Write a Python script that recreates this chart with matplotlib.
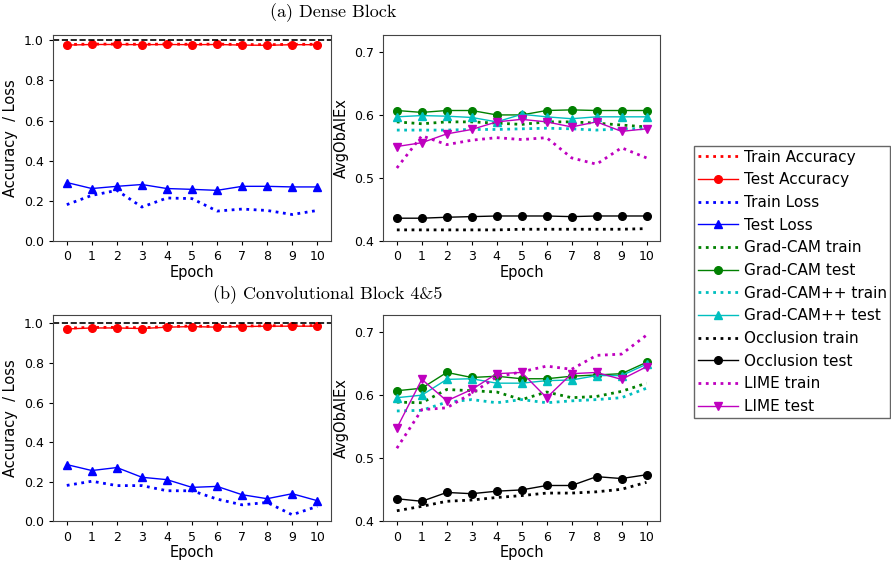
import matplotlib.pyplot as plt
import numpy as np

epochs = np.arange(11)

# (a) Dense Block
a_train_acc = [0.978, 0.980, 0.980, 0.979, 0.980, 0.979, 0.980, 0.978, 0.977, 0.979, 0.979]
a_test_acc = [0.975, 0.978, 0.978, 0.977, 0.978, 0.977, 0.978, 0.975, 0.974, 0.977, 0.977]
a_train_loss = [0.182, 0.228, 0.253, 0.170, 0.215, 0.212, 0.150, 0.160, 0.153, 0.133, 0.153]
a_test_loss = [0.292, 0.262, 0.273, 0.282, 0.262, 0.258, 0.253, 0.273, 0.273, 0.270, 0.270]

a_gc_train = [0.589, 0.586, 0.589, 0.589, 0.587, 0.585, 0.589, 0.589, 0.587, 0.584, 0.581]
a_gc_test = [0.607, 0.604, 0.607, 0.607, 0.600, 0.600, 0.607, 0.608, 0.607, 0.607, 0.607]
a_gcpp_train = [0.576, 0.576, 0.576, 0.577, 0.577, 0.578, 0.579, 0.578, 0.576, 0.578, 0.578]
a_gcpp_test = [0.597, 0.599, 0.598, 0.596, 0.589, 0.601, 0.597, 0.594, 0.597, 0.597, 0.597]
a_occ_train = [0.418, 0.418, 0.418, 0.418, 0.418, 0.419, 0.419, 0.419, 0.419, 0.419, 0.420]
a_occ_test = [0.4365, 0.4365, 0.438, 0.439, 0.440, 0.440, 0.440, 0.439, 0.440, 0.440, 0.440]
a_lime_train = [0.516, 0.567, 0.553, 0.560, 0.564, 0.561, 0.564, 0.532, 0.522, 0.548, 0.532]
a_lime_test = [0.550, 0.556, 0.570, 0.577, 0.589, 0.593, 0.589, 0.581, 0.589, 0.574, 0.578]

# (b) Convolutional Block 4&5
b_train_acc = [0.975, 0.979, 0.979, 0.977, 0.983, 0.986, 0.983, 0.986, 0.987, 0.988, 0.988]
b_test_acc = [0.971, 0.976, 0.976, 0.973, 0.980, 0.983, 0.980, 0.983, 0.985, 0.985, 0.985]
b_train_loss = [0.182, 0.203, 0.181, 0.181, 0.155, 0.155, 0.113, 0.084, 0.096, 0.034, 0.076]
b_test_loss = [0.287, 0.257, 0.272, 0.223, 0.211, 0.172, 0.177, 0.135, 0.115, 0.140, 0.105]

b_gc_train = [0.589, 0.588, 0.609, 0.607, 0.605, 0.593, 0.605, 0.596, 0.598, 0.606, 0.619]
b_gc_test = [0.607, 0.611, 0.636, 0.628, 0.630, 0.626, 0.626, 0.630, 0.632, 0.634, 0.652]
b_gcpp_train = [0.575, 0.576, 0.589, 0.593, 0.588, 0.593, 0.588, 0.591, 0.593, 0.596, 0.611]
b_gcpp_test = [0.596, 0.600, 0.625, 0.626, 0.619, 0.619, 0.623, 0.624, 0.631, 0.631, 0.649]
b_occ_train = [0.417, 0.424, 0.432, 0.434, 0.438, 0.441, 0.445, 0.445, 0.447, 0.451, 0.462]
b_occ_test = [0.436, 0.432, 0.446, 0.444, 0.448, 0.450, 0.457, 0.457, 0.471, 0.468, 0.474]
b_lime_train = [0.516, 0.577, 0.580, 0.603, 0.629, 0.637, 0.646, 0.641, 0.663, 0.665, 0.695]
b_lime_test = [0.548, 0.625, 0.591, 0.609, 0.634, 0.636, 0.596, 0.634, 0.636, 0.625, 0.645]

plt.rcParams['font.family'] = 'DejaVu Sans'
plt.rcParams['xtick.labelsize'] = 9
plt.rcParams['ytick.labelsize'] = 9
plt.rcParams['xtick.major.size'] = 3
plt.rcParams['ytick.major.size'] = 3

fig = plt.figure(figsize=(8.91, 5.65), dpi=100)

ax_pos = {
    'a_left': [0.0595, 0.573, 0.312, 0.365],
    'a_right': [0.430, 0.573, 0.311, 0.365],
    'b_left': [0.0595, 0.077, 0.312, 0.365],
    'b_right': [0.430, 0.077, 0.311, 0.365],
}


def plot_acc(ax, tr_acc, te_acc, tr_loss, te_loss, top):
    ax.plot(epochs, tr_acc, 'r:', lw=2, label='Train Accuracy')
    ax.plot(epochs, te_acc, 'r-', marker='o', ms=5.5, lw=1, label='Test Accuracy')
    ax.plot(epochs, tr_loss, 'b:', lw=2, label='Train Loss')
    ax.plot(epochs, te_loss, 'b-', marker='^', ms=5.5, lw=1, label='Test Loss')
    ax.axhline(1.0, color='k', ls='--', lw=1.2)
    ax.set_xlim(-0.55, 10.55)
    ax.set_ylim(0.0, top)
    ax.set_xticks(epochs)
    ax.set_yticks([0.0, 0.2, 0.4, 0.6, 0.8, 1.0])
    ax.set_xlabel('Epoch', fontsize=10.5, labelpad=1)
    ax.set_ylabel('Accuracy  / Loss', fontsize=10.5)


def plot_xai(ax, gc_tr, gc_te, gp_tr, gp_te, oc_tr, oc_te, li_tr, li_te):
    ax.plot(epochs, gc_tr, ':', color='green', lw=2, label='Grad-CAM train')
    ax.plot(epochs, gc_te, '-', color='green', marker='o', ms=5.5, lw=1, label='Grad-CAM test')
    ax.plot(epochs, gp_tr, ':', color='c', lw=2, label='Grad-CAM++ train')
    ax.plot(epochs, gp_te, '-', color='c', marker='^', ms=5.5, lw=1, label='Grad-CAM++ test')
    ax.plot(epochs, oc_tr, ':', color='k', lw=2, label='Occlusion train')
    ax.plot(epochs, oc_te, '-', color='k', marker='o', ms=5.5, lw=1, label='Occlusion test')
    ax.plot(epochs, li_tr, ':', color='m', lw=2, label='LIME train')
    ax.plot(epochs, li_te, '-', color='m', marker='v', ms=5.5, lw=1, label='LIME test')
    ax.set_xlim(-0.55, 10.55)
    ax.set_ylim(0.4, 0.7265)
    ax.set_xticks(epochs)
    ax.set_yticks([0.4, 0.5, 0.6, 0.7])
    ax.set_xlabel('Epoch', fontsize=10.5, labelpad=1)
    ax.set_ylabel('AvgObAIEx', fontsize=10.5)


ax1 = fig.add_axes(ax_pos['a_left'])
plot_acc(ax1, a_train_acc, a_test_acc, a_train_loss, a_test_loss, 1.025)
ax2 = fig.add_axes(ax_pos['a_right'])
plot_xai(ax2, a_gc_train, a_gc_test, a_gcpp_train, a_gcpp_test,
         a_occ_train, a_occ_test, a_lime_train, a_lime_test)
ax3 = fig.add_axes(ax_pos['b_left'])
plot_acc(ax3, b_train_acc, b_test_acc, b_train_loss, b_test_loss, 1.04)
ax4 = fig.add_axes(ax_pos['b_right'])
plot_xai(ax4, b_gc_train, b_gc_test, b_gcpp_train, b_gcpp_test,
         b_occ_train, b_occ_test, b_lime_train, b_lime_test)

for ax in [ax1, ax2, ax3, ax4]:
    for s in ax.spines.values():
        s.set_color('#444444')

fig.text(0.374, 0.977, '(a) Dense Block', ha='center', va='center',
         fontsize=13, family='cmr10')
fig.text(0.368, 0.478, '(b) Convolutional Block 4&5', ha='center', va='center',
         fontsize=13, family='cmr10')

h1, l1 = ax1.get_legend_handles_labels()
h2, l2 = ax2.get_legend_handles_labels()
leg = fig.legend(h1 + h2, l1 + l2, loc='upper left',
                 bbox_to_anchor=(694 / 891, 1 - 146 / 565), borderaxespad=0,
                 fontsize=11, fancybox=False, framealpha=1, handlelength=2.6,
                 handletextpad=0.4, borderpad=0.25)
leg.get_frame().set_edgecolor('#666666')

fig.savefig('out.png', dpi=100)
